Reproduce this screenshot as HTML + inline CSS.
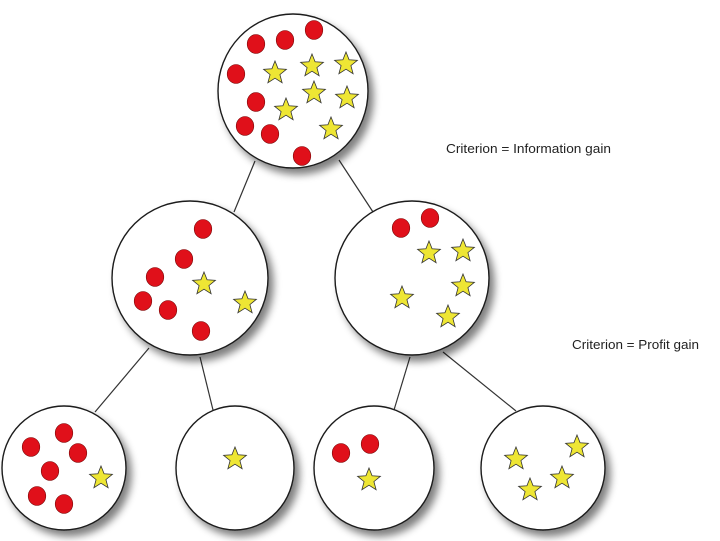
<!DOCTYPE html>
<html><head><meta charset="utf-8"><style>
html,body{margin:0;padding:0;background:#fff;width:720px;height:541px;overflow:hidden}
svg{display:block}
text{font-family:"Liberation Sans",sans-serif;font-size:13px;fill:#222}
</style></head><body>
<svg id="d" width="720" height="541" viewBox="0 0 720 541">
<defs><filter id="sh" x="-20%" y="-20%" width="150%" height="150%"><feGaussianBlur in="SourceAlpha" stdDeviation="4"/><feOffset dx="5" dy="6"/><feComponentTransfer><feFuncA type="linear" slope="0.5"/></feComponentTransfer><feMerge><feMergeNode/><feMergeNode in="SourceGraphic"/></feMerge></filter></defs>
<g id="edges"></g><g id="nodes"></g><g id="marks"></g>
<text x="446" y="153" textLength="165" lengthAdjust="spacingAndGlyphs">Criterion = Information gain</text>
<text x="572" y="349" textLength="127" lengthAdjust="spacingAndGlyphs">Criterion = Profit gain</text>
</svg>
<script>
const nodes=[[293,91,75,77],[190,278,78,77],[412,278,77,77],[64,468,62,62],[235,468,59,62],[374,468,60,62],[543,468,62,62]];
const edges=[[255,161,234,212],[339,160,373,212],[149,348,95,412],[200,357,213,410],[410,357,394,410],[443,352,516,411]];
const dots=[[256,44],[285,40],[314,30],[236,74],[256,102],[245,126],[270,134],[302,156],
[203,229],[184,259],[155,277],[143,301],[168,310],[201,331],[401,228],[430,218],
[64,433],[31,447],[78,453],[50,471],[37,496],[64,504],[341,453],[370,444]];
const stars=[[275,73],[312,66],[346,64],[314,93],[347,98],[286,110],[331,129],
[204,284],[245,303],[429,253],[463,251],[463,286],[402,298],[448,317],
[101,478],[235,459],[369,480],[516,459],[577,447],[562,478],[530,490]];
const NS='http://www.w3.org/2000/svg';
function mk(t,a,p){const e=document.createElementNS(NS,t);for(const k in a)e.setAttribute(k,a[k]);p.appendChild(e);return e;}
const E=document.getElementById('edges'),N=document.getElementById('nodes'),M=document.getElementById('marks');
edges.forEach(l=>{const e=mk('line',{x1:l[0],y1:l[1],x2:l[2],y2:l[3],stroke:'#333','stroke-width':1.2},E);

});
nodes.forEach(n=>{const e=mk('ellipse',{cx:n[0],cy:n[1],rx:n[2],ry:n[3],fill:'#fff',stroke:'#1a1a1a','stroke-width':1.4,filter:'url(#sh)'},N);

});
dots.forEach(d=>{const e=mk('ellipse',{cx:d[0],cy:d[1],rx:8.8,ry:9.5,fill:'#e0101a',stroke:'#7a0a0a','stroke-width':0.6},M);

});
stars.forEach(s=>{let pts=[];for(let i=0;i<10;i++){const r=i%2?5.2:12,a=-Math.PI/2+i*Math.PI/5;pts.push((s[0]+r*Math.cos(a)).toFixed(1)+','+(s[1]+r*Math.sin(a)).toFixed(1));}
const e=mk('polygon',{points:pts.join(' '),fill:'#eee634',stroke:'#333','stroke-width':0.8},M);

});
</script>
</body></html>
